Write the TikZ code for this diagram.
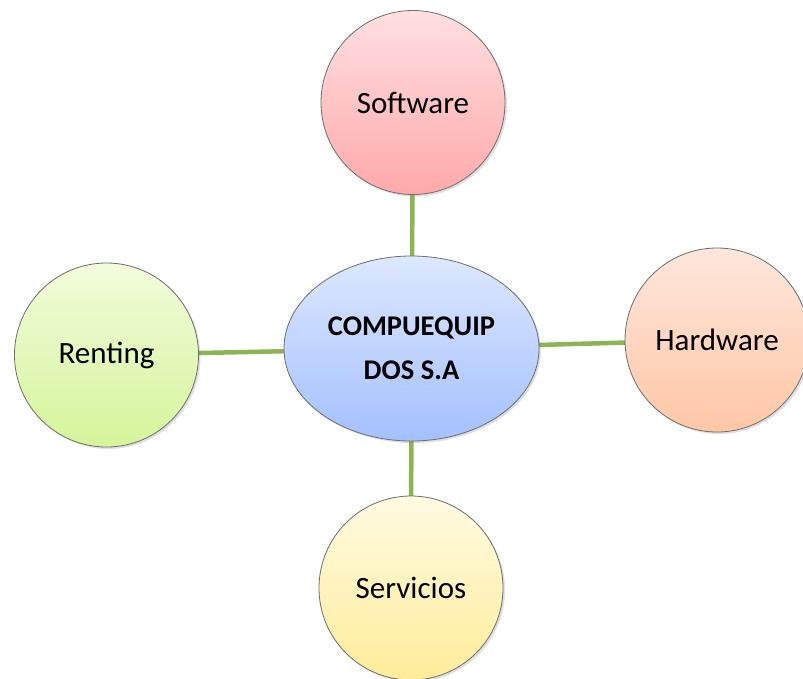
\documentclass[tikz,border=0pt]{standalone}
\usepackage{fontspec}
\setmainfont{Carlito}
\usetikzlibrary{shadows,shapes.geometric,backgrounds}
\definecolor{linkgreen}{HTML}{8CB454}
\definecolor{rimgray}{HTML}{6E6E6E}
\definecolor{hubtop}{HTML}{DDE8FF}
\definecolor{hubbot}{HTML}{A3C0FF}
\definecolor{softtop}{HTML}{FFDFE2}
\definecolor{softbot}{HTML}{FFA9A9}
\definecolor{hardtop}{HTML}{FFE7DC}
\definecolor{hardbot}{HTML}{FFC6A6}
\definecolor{renttop}{HTML}{F2FCDC}
\definecolor{rentbot}{HTML}{D5F59A}
\definecolor{servtop}{HTML}{FFFBE2}
\definecolor{servbot}{HTML}{FFEC99}
\tikzset{
  bubble/.style={circle, draw=rimgray, line width=0.8pt, minimum size=184pt,
    inner sep=0pt, font=\fontsize{31}{36}\selectfont,
    drop shadow={opacity=0.25, shadow xshift=2pt, shadow yshift=-2pt}},
  hub/.style={ellipse, draw=rimgray, line width=0.8pt, minimum width=255pt,
    minimum height=185pt, inner sep=0pt, align=center,
    font=\fontsize{28.5}{44}\selectfont\bfseries,
    drop shadow={opacity=0.25, shadow xshift=2pt, shadow yshift=-2pt}},
  link/.style={draw=linkgreen, line width=4.5pt}
}
\begin{document}
\begin{tikzpicture}[x=1pt, y=-1pt]
  \useasboundingbox (0,0) rectangle (803,678);

  \node[hub, top color=hubtop, bottom color=hubbot] (hub) at (411.5,348.5)
    {COMPUEQUIP\\DOS S.A};
  \node[bubble, top color=softtop, bottom color=softbot] (soft) at (413,102.5) {Software};
  \node[bubble, top color=hardtop, bottom color=hardbot] (hard) at (717,340) {Hardware};
  \node[bubble, top color=renttop, bottom color=rentbot] (rent) at (106.5,355) {Renting};
  \node[bubble, top color=servtop, bottom color=servbot] (serv) at (411,588) {Servicios};

  % white page and the spokes, both behind the shapes
  \begin{scope}[on background layer]
    \fill[white] (0,0) rectangle (803,678);
    \draw[link] (hub.center) -- (soft.center);
    \draw[link] (hub.center) -- (serv.center);
    \draw[link] (hub.center) -- (rent.center);
    \draw[link] (hub.center) -- (hard.center);
  \end{scope}
\end{tikzpicture}
\end{document}
